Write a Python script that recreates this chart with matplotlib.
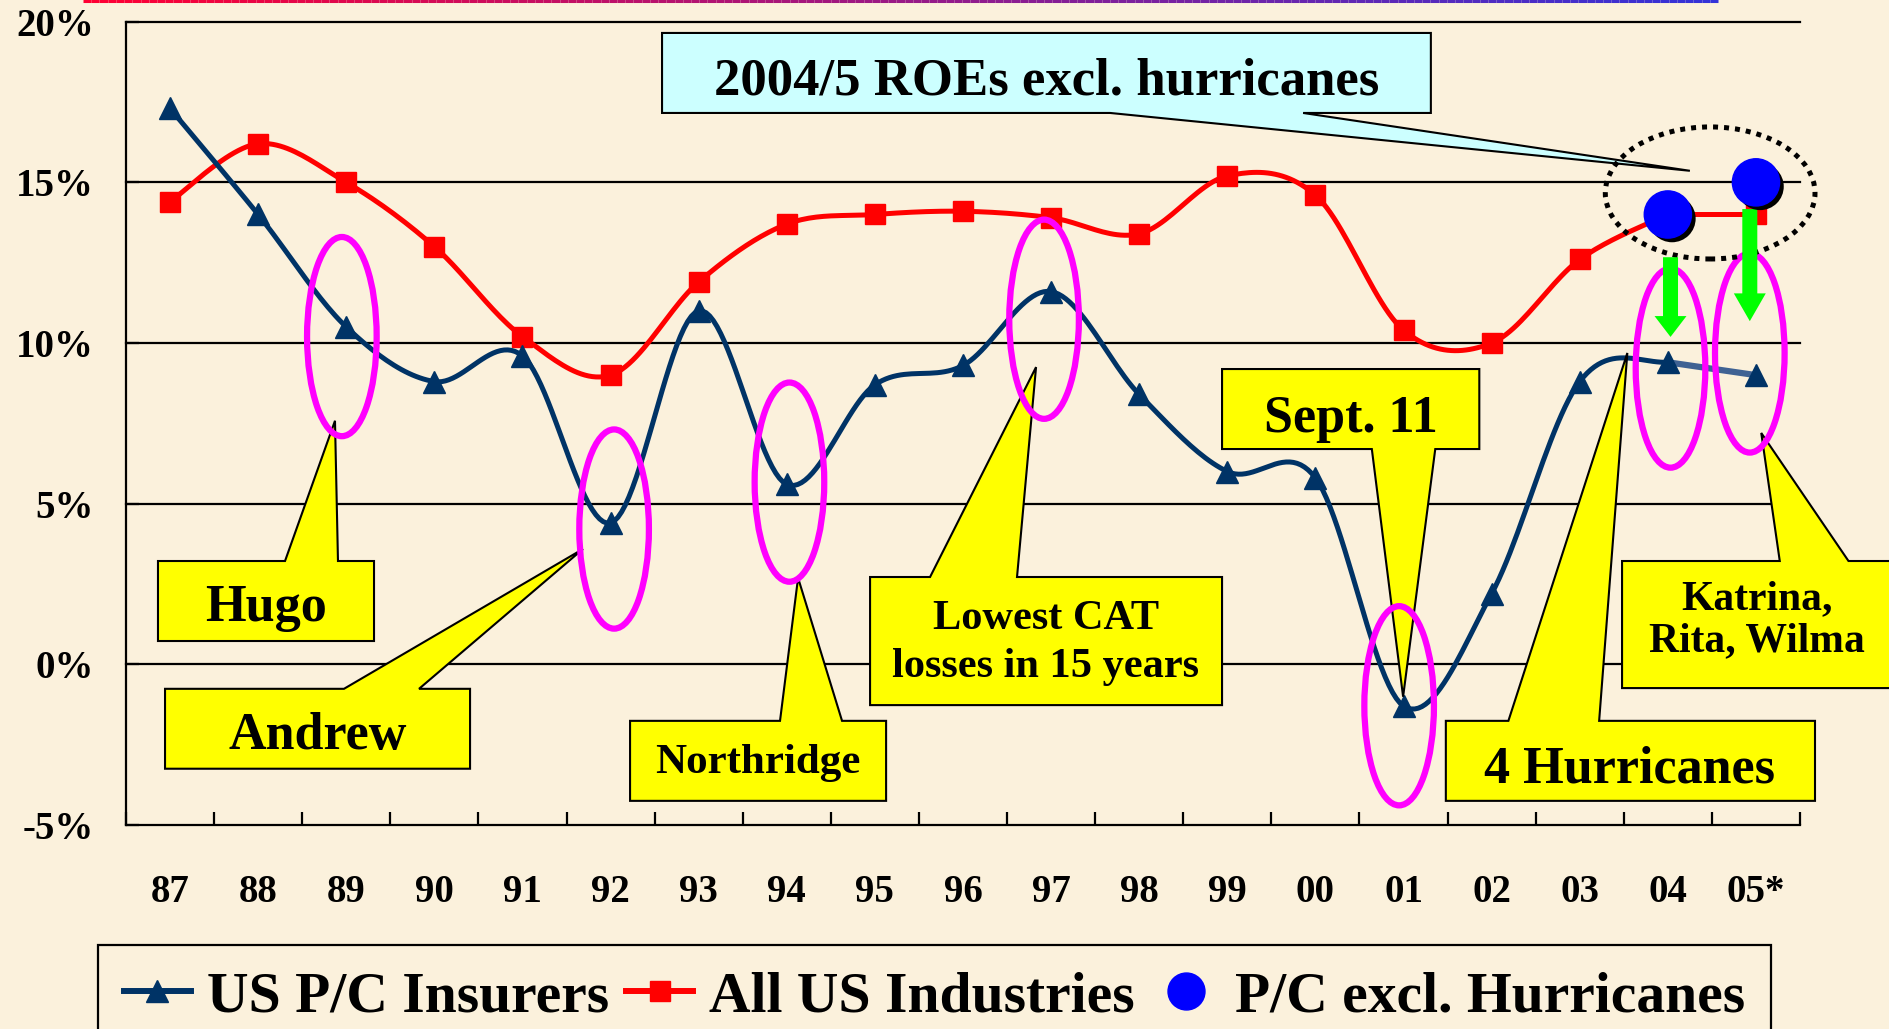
import numpy as np
import matplotlib
matplotlib.use('Agg')
import matplotlib.pyplot as plt
import matplotlib.patheffects as pe
from matplotlib.patches import Ellipse, Polygon, FancyArrowPatch
from matplotlib.lines import Line2D
from matplotlib.collections import LineCollection

# ---- data (ROE, %) ----
years = ['87', '88', '89', '90', '91', '92', '93', '94', '95', '96',
         '97', '98', '99', '00', '01', '02', '03', '04', '05*']
pc_insurers = [17.3, 14.0, 10.5, 8.8, 9.6, 4.4, 11.0, 5.6, 8.7, 9.3,
               11.6, 8.4, 6.0, 5.8, -1.3, 2.2, 8.8, 9.4, 9.0]
all_industries = [14.4, 16.2, 15.0, 13.0, 10.2, 9.0, 11.9, 13.7, 14.0, 14.1,
                  13.9, 13.4, 15.2, 14.6, 10.4, 10.0, 12.6, 14.0, 14.0]
excl_years = ['04', '05*']
pc_excl_hurricanes = [14.0, 15.0]

BG = '#FBF1DC'
NAVY = '#003366'
RED = '#FF0000'
DOT = '#0000FF'

plt.rcParams['font.family'] = 'Liberation Serif'
plt.rcParams['font.weight'] = 'bold'


def smooth(xs, ys, steps=25):
    # Excel style smoothed line: cubic bezier with tangents (P[i+1]-P[i-1])/6
    pts = np.column_stack([xs, ys]).astype(float)
    n = len(pts)
    out = []
    t = np.linspace(0, 1, steps)[:, None]
    for i in range(n - 1):
        p0 = pts[max(i - 1, 0)]
        p1 = pts[i]
        p2 = pts[i + 1]
        p3 = pts[min(i + 2, n - 1)]
        c1 = p1 + (p2 - p0) / 6
        c2 = p2 - (p3 - p1) / 6
        seg = (1 - t) ** 3 * p1 + 3 * (1 - t) ** 2 * t * c1 + 3 * (1 - t) * t ** 2 * c2 + t ** 3 * p2
        out.append(seg if i == 0 else seg[1:])
    return np.vstack(out)


def callout(ax, x0, x1, y0, y1, side, bx0, bx1, tip, face='#FFFF00'):
    # rectangle with a pointer, y0 = bottom, y1 = top
    if side == 'top':
        pts = [(x0, y0), (x0, y1), (bx0, y1), tip, (bx1, y1), (x1, y1), (x1, y0)]
    else:
        pts = [(x0, y1), (x1, y1), (x1, y0), (bx1, y0), tip, (bx0, y0), (x0, y0)]
    poly = Polygon(pts, closed=True, facecolor=face, edgecolor='black',
                   lw=1.5, zorder=5, clip_on=False, joinstyle='miter')
    ax.add_patch(poly)


fig = plt.figure(figsize=(18.89, 10.29), dpi=100, facecolor=BG)
ax = fig.add_axes([0.0667, 0.1983, 0.8862, 0.7806])
ax.set_facecolor('none')

x = np.arange(len(years))
ax.set_xlim(-0.5, len(years) - 0.5)
ax.set_ylim(-5, 20)

# horizontal grid lines
for yv in [0, 5, 10, 15, 20]:
    ax.axhline(yv, color='black', lw=1.6, zorder=1, clip_on=False)

ax.spines[['top', 'right']].set_visible(False)
ax.spines[['left', 'bottom']].set_linewidth(1.6)

ax.set_yticks([-5, 0, 5, 10, 15, 20])
ax.set_yticklabels([f'{v}%' for v in [-5, 0, 5, 10, 15, 20]])
ax.tick_params(axis='y', direction='in', length=9.5, width=1.6, pad=23, labelsize=28)

ax.set_xticks(np.arange(-0.5, len(years)))
ax.set_xticklabels([])
ax.set_xticks(x, minor=True)
ax.set_xticklabels(years, minor=True)
ax.tick_params(axis='x', which='major', direction='in', length=9.5, width=1.6)
ax.tick_params(axis='x', which='minor', length=0, pad=35, labelsize=28)

# ---- series ----
red_curve = smooth(x[:-1], all_industries[:-1])
ax.plot(red_curve[:, 0], red_curve[:, 1], color=RED, lw=3.6, zorder=3)
ax.plot(x[-2:], all_industries[-2:], color=RED, lw=3.6, zorder=3)
ax.plot(x, all_industries, ls='none', marker='s', ms=14.5, color=RED, zorder=3)

blue_curve = smooth(x, pc_insurers)
cut = (len(years) - 2) * 24 + 1
ax.plot(blue_curve[:cut, 0], blue_curve[:cut, 1], color=NAVY, lw=3.6, zorder=4)
# last (estimated) year drawn as a lighter hatched-looking segment
ax.plot(x[-2:], pc_insurers[-2:], color='#3F6293', lw=4.5, zorder=4)
ax.plot(x, pc_insurers, ls='none', marker='^', ms=16, color=NAVY, zorder=4)

# ---- callouts ----
callout(ax, -0.137, 2.315, 0.725, 3.215, 'top', 1.305, 1.906, (1.872, 7.58))
ax.text(1.09, 1.75, 'Hugo', fontsize=37.5, ha='center', va='center', zorder=6)

callout(ax, -0.057, 3.405, -3.25, -0.763, 'top', 1.974, 2.826, (4.687, 3.59))
ax.text(1.67, -2.22, 'Andrew', fontsize=37.5, ha='center', va='center', zorder=6)

callout(ax, 5.221, 8.127, -4.25, -1.76, 'top', 6.923, 7.627, (7.128, 2.69))
ax.text(6.67, -3.08, 'Northridge', fontsize=31, ha='center', va='center', zorder=6)

callout(ax, 7.945, 11.94, -1.27, 2.717, 'top', 8.626, 9.613, (9.829, 9.25))
ax.text(9.94, 0.66, 'Lowest CAT\nlosses in 15 years', fontsize=30.5, ha='center',
        va='center', linespacing=1.32, zorder=6)

callout(ax, 11.94, 14.86, 6.70, 9.19, 'bottom', 13.64, 14.36, (13.995, -1.01))
ax.text(13.4, 7.62, 'Sept. 11', fontsize=37.5, ha='center', va='center', zorder=6)

callout(ax, 14.48, 18.67, -4.25, -1.76, 'top', 15.19, 16.22, (16.54, 9.69))
ax.text(16.57, -3.28, '4 Hurricanes', fontsize=37.5, ha='center', va='center', zorder=6)

callout(ax, 16.48, 19.7, -0.74, 3.215, 'top', 18.27, 19.05, (18.06, 7.20))
ax.text(18.01, 1.38, 'Katrina,\nRita, Wilma', fontsize=30, ha='center', va='center',
        linespacing=1.15, zorder=6)

callout(ax, 5.584, 14.31, 17.16, 19.65, 'bottom', 10.67, 12.86, (17.25, 15.36), face='#CCFFFF')
ax.text(9.95, 18.15, '2004/5 ROEs excl. hurricanes', fontsize=38, ha='center',
        va='center', zorder=6)

# ---- magenta rings round the catastrophe years ----
rings = [(1.95, 10.2), (5.04, 4.21), (7.03, 5.67), (9.92, 10.74),
         (13.95, -1.29), (17.03, 9.22), (17.93, 9.69)]
for cx, cy in rings:
    ax.add_patch(Ellipse((cx, cy), 0.79, 6.2, fill=False, ec='#FF00FF', lw=4.5,
                         zorder=6, clip_on=False))

# ---- green arrows: hurricane impact ----
for ax_x, y_from, y_to, hl in [(17.03, 12.67, 10.19, 15), (17.93, 14.17, 10.68, 20)]:
    arr = FancyArrowPatch((ax_x, y_from), (ax_x, y_to),
                          arrowstyle=f'simple,head_length={hl},head_width=23,tail_width=10.8',
                          mutation_scale=1, shrinkA=0, shrinkB=0, color='#00FF00',
                          lw=0, zorder=7)
    ax.add_patch(arr)

# dotted ring round the ex-hurricane points
ax.add_patch(Ellipse((17.48, 14.67), 2.38, 4.11, fill=False, ec='black', lw=3.6,
                     ls=(0, (1, 1.2)), zorder=6.5, clip_on=False))

excl_x = [years.index(y) for y in excl_years]
ax.plot(excl_x, pc_excl_hurricanes, ls='none', marker='o', ms=34, color=DOT,
        zorder=8, clip_on=False,
        path_effects=[pe.SimplePatchShadow(offset=(3, -3), shadow_rgbFace='black', alpha=1),
                      pe.Normal()])

# ---- legend ----
handles = [Line2D([], [], color=NAVY, lw=4.3, marker='^', ms=16.5),
           Line2D([], [], color=RED, lw=4.3, marker='s', ms=15),
           Line2D([], [], ls='none', marker='o', ms=26.6, color=DOT)]
labels = ['US P/C Insurers', 'All US Industries', 'P/C excl. Hurricanes']
leg = fig.legend(handles, labels, loc='upper left', bbox_to_anchor=(98 / 1889, 1 - 945 / 1029),
                 ncol=3, fontsize=41.5, frameon=True, fancybox=False, edgecolor='black',
                 facecolor=BG, framealpha=1, borderaxespad=0, handlelength=1.16,
                 handletextpad=0.28, columnspacing=0.3, borderpad=0.45)
leg.get_frame().set_linewidth(1.6)

# thin red-to-blue rule along the top edge
gx = np.linspace(83 / 1889, 1718 / 1889, 200)
gp = np.column_stack([gx, np.full_like(gx, 0.999)]).reshape(-1, 1, 2)
segs = np.concatenate([gp[:-1], gp[1:]], axis=1)
f = np.linspace(0, 1, len(segs))[:, None]
cols = (1 - f) * np.array([1.0, 0.0, 0.2]) + f * np.array([0.2, 0.2, 0.85])
fig.add_artist(LineCollection(segs, colors=cols, linewidths=2.2, transform=fig.transFigure))

fig.savefig('out.png', dpi=100, facecolor=BG)
